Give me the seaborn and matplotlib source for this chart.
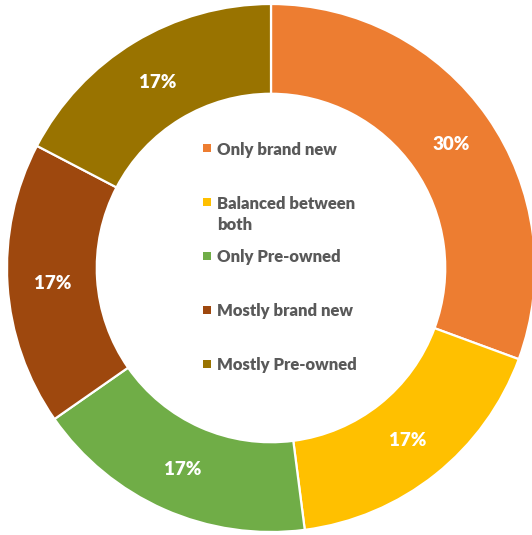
import matplotlib
matplotlib.use("Agg")
import matplotlib.pyplot as plt
import seaborn as sns

# Purchase preference shares (percent)
categories = ["Only brand new", "Balanced between\nboth", "Only Pre-owned",
              "Mostly brand new", "Mostly Pre-owned"]
shares = [30, 17, 17, 17, 17]
colors = ["#ED7D31", "#FFC000", "#70AD47", "#9E480E", "#997300"]

sns.set_theme(style="white")
plt.rcParams["font.family"] = ["Lato", "DejaVu Sans"]
palette = sns.color_palette(colors)

W, H, DPI = 532, 535, 100
fig = plt.figure(figsize=(W / DPI, H / DPI), dpi=DPI)
ax = fig.add_axes([0, 0, 1, 1])

# ring centre and outer radius in pixels (origin bottom-left)
cx, cy, R = 271, 267, 264

total = sum(shares)
wedges, texts, autotexts = ax.pie(
    shares,
    colors=palette,
    startangle=90,
    counterclock=False,
    radius=1.0,
    wedgeprops=dict(width=0.34, edgecolor="white", linewidth=1.6),
    autopct=lambda p: f"{p * total / 100:.0f}%",
    pctdistance=0.83,
    textprops=dict(color="white", fontsize=13.5, fontweight="heavy"),
)
for t in autotexts:
    t.set_va("center_baseline")

ax.set_xlim(-cx / R, (W - cx) / R)
ax.set_ylim(-cy / R, (H - cy) / R)
ax.set_aspect("auto")
ax.axis("off")


def px(x, y_from_top):
    """Pixel position -> data coordinates."""
    return (x - cx) / R, ((H - y_from_top) - cy) / R


# legend in the hole of the ring
legend_top, legend_step, line_step = 148.3, 53.85, 21
for i, (label, col) in enumerate(zip(categories, palette)):
    yc = legend_top + i * legend_step
    mx, my = px(206.5, yc)
    ax.scatter([mx], [my], marker="s", s=26, color=col, linewidths=0, zorder=5)
    for k, line in enumerate(label.split("\n")):
        tx, ty = px(217, yc + k * line_step)
        ax.text(tx, ty, line, ha="left", va="center_baseline", fontsize=12,
                fontweight="heavy", color="#595959")

fig.savefig("out.png", dpi=DPI)
